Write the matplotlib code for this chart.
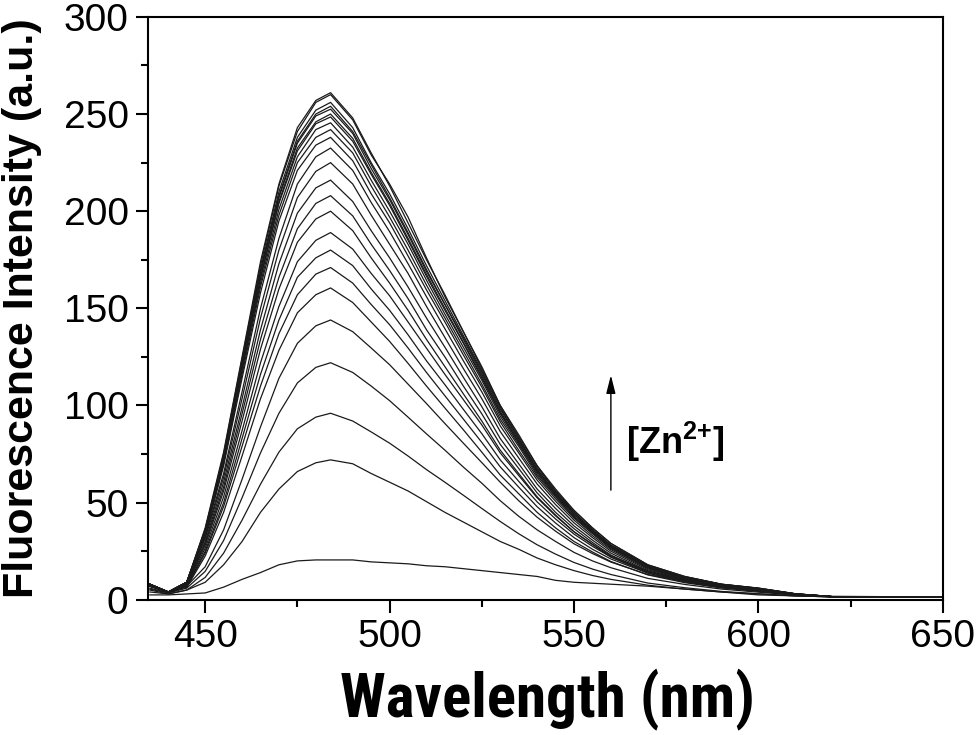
import matplotlib
matplotlib.use("Agg")
import matplotlib.pyplot as plt
from matplotlib.ticker import MultipleLocator
from matplotlib import font_manager as fm

plt.rcParams['font.family'] = ['Liberation Sans', 'DejaVu Sans']
plt.rcParams['mathtext.fontset'] = 'custom'
plt.rcParams['mathtext.rm'] = 'Liberation Sans:bold'
plt.rcParams['mathtext.bf'] = 'Liberation Sans:bold'
plt.rcParams['mathtext.it'] = 'Liberation Sans:bold'

# Wavelength grid (nm)
wavelength = [435, 440, 445, 450, 455, 460, 465, 470, 475, 480, 484, 490, 495, 500,
              505, 510, 515, 520, 525, 530, 535, 540, 545, 550, 555, 560, 570, 580,
              590, 600, 610, 620, 650]

# Fluorescence intensity spectra (a.u.) with increasing [Zn2+]
i_00 = [2.5, 2.5, 3, 3.5, 6.5, 10.5, 14, 18, 20, 20.5, 20.5, 20.5, 19.5, 19, 18.5, 17.5, 17, 16,
        15, 14, 13, 12, 10, 9, 8.5, 8, 7, 5.5, 4, 2.5, 2, 1.5, 1.5]
i_01 = [4, 3, 5, 9, 18, 30, 45, 57, 66, 70.5, 72, 70, 65, 60.5, 56, 50.5, 45, 40,
        35, 30, 26, 21.5, 18, 15, 12.5, 10.5, 7.5, 5.5, 4, 3, 2, 1.5, 1.5]
i_02 = [5, 3, 5, 11.5, 24, 41, 59.5, 76, 88, 94, 96, 92, 86.4, 80.6, 74, 67, 60.5, 53.8,
        47, 40.3, 34, 28.3, 23.5, 19.2, 15.8, 13, 8.6, 6.2, 4.3, 3.1, 2, 1.5, 1.5]
i_03 = [5.5, 3.5, 6, 14.6, 30.5, 52.5, 75.6, 96, 111.6, 119.6, 122, 117, 110, 102.5, 94, 85.4, 77, 68.3,
        60, 51, 43, 36, 30, 24.4, 20, 16.5, 11, 7.9, 5.5, 3.9, 2.4, 1.5, 1.5]
i_04 = [6, 3.5, 7, 17, 36, 62, 89, 114, 132, 141, 144, 138, 129.6, 121, 111, 101, 90.7, 80.6,
        70.6, 60.5, 51, 42.5, 35.3, 28.8, 23.8, 19.4, 13, 9.4, 6.5, 4.6, 2.9, 1.7, 1.5]
i_05 = [7, 4, 6.4, 22.5, 45, 74, 103.5, 128.4, 147.7, 157, 160.5, 153, 143, 133, 121.7, 110, 98.7, 87.5,
        76, 64.2, 54.6, 45, 37, 30, 24.6, 19.7, 12.8, 8.8, 6.1, 4.3, 2.6, 1.6, 1.5]
i_06 = [7, 4, 6.8, 24, 48, 79, 110, 137, 157, 167.6, 171, 163, 152, 141.6, 129.6, 117, 105, 93,
        81, 68.4, 58, 47.9, 39.5, 32, 26, 21, 13.7, 9.4, 6.5, 4.6, 2.7, 1.6, 1.5]
i_07 = [7, 4, 7.2, 25, 50, 83, 116, 144, 166, 176, 180, 172, 160, 149, 136.4, 123, 110.7, 98,
        85.5, 72, 61, 50.4, 41.6, 33.8, 27.5, 22, 14.4, 9.9, 6.8, 4.9, 2.9, 1.6, 1.5]
i_08 = [7, 4, 7.6, 26.5, 53, 87, 122, 151, 174, 185, 189, 180.5, 168, 156.5, 143, 129.5, 116, 103,
        90, 75.6, 64, 52.5, 43.2, 35, 28.6, 22.6, 14.8, 10.2, 7.1, 5.1, 3, 1.7, 1.5]
i_09 = [7, 4, 8, 28, 56, 92, 129, 160, 184, 196, 200, 190, 176, 163, 149, 134, 120, 106,
        92, 77, 65, 53, 43.6, 35, 28.4, 22, 13.8, 9.2, 6.2, 4.6, 2.4, 1.6, 1.5]
i_10 = [7, 4, 8.3, 29, 58, 95.7, 134, 166, 191, 204, 208, 197.6, 183, 169.5, 155, 139, 125, 110,
        95.7, 80, 67.6, 55, 45, 36.6, 29.5, 23, 14.4, 9.6, 6.5, 4.8, 2.5, 1.6, 1.5]
i_11 = [7.5, 4, 8.6, 30, 60.5, 99, 139, 173, 199, 212, 216, 205, 190, 176, 161, 145, 130, 114.5,
        99.4, 83, 70, 57, 47, 38, 30.7, 24, 14.9, 10, 6.7, 5, 2.6, 1.6, 1.5]
i_12 = [7.5, 4, 9, 31.5, 63, 103.5, 145, 180, 207, 220.5, 225, 214, 198, 183, 168, 151, 135, 119,
        103.5, 86.6, 73, 59.6, 49, 39.6, 32, 25, 15.5, 10.4, 7, 5.2, 2.7, 1.6, 1.5]
i_13 = [8, 4, 9, 32.5, 65, 107, 150, 186, 214, 228, 232.5, 221, 204.5, 189.5, 173, 156, 139.5, 123,
        107, 89.5, 75.6, 61.6, 50.7, 41, 33, 25.8, 16, 10.7, 7.2, 5.3, 2.8, 1.6, 1.5]
i_14 = [8, 4, 9, 33, 69, 114, 158, 195, 221, 234, 238, 226, 209, 194, 177, 159.5, 143, 126,
        109.5, 91.6, 77, 63, 52, 42, 34, 26.4, 16.4, 11, 7.4, 5.5, 2.9, 1.6, 1.5]
i_15 = [8, 4, 9, 34, 70, 116, 161, 198, 225, 238, 242, 230, 213, 197, 180, 162, 145, 128,
        111, 93, 79, 64, 53, 42.6, 34.4, 26.9, 16.7, 11.1, 7.5, 5.6, 2.9, 1.6, 1.5]
i_16 = [8, 4, 9, 34, 71, 118, 163, 201, 228, 242, 245.5, 233, 216, 200, 183, 164.5, 147, 130,
        113, 94.5, 80, 65, 53.5, 43, 35, 27, 17, 11.3, 7.6, 5.6, 3, 1.6, 1.5]
i_17 = [8, 4, 9, 35, 72, 119, 165, 204, 231, 245, 248.5, 236, 219, 203, 185, 166.5, 149, 132,
        114, 96, 81, 66, 54, 44, 35, 27.6, 17.1, 11.4, 7.7, 5.7, 3, 1.6, 1.5]
i_18 = [8, 4, 9, 35, 72.5, 120, 166, 205, 232.5, 246, 250, 237.5, 220, 204, 186, 167.5, 150, 132.5,
        115, 96, 81, 66, 54.5, 44, 35.5, 27.8, 17.3, 11.5, 7.8, 5.7, 3, 1.6, 1.5]
i_19 = [8, 4, 9, 35, 73, 121, 168, 207, 235, 249, 252.5, 240, 222, 206, 188, 169, 152, 134,
        116, 97, 82, 67, 55, 44, 36, 28, 17.4, 11.6, 7.8, 5.8, 3, 1.6, 1.5]
i_20 = [8, 4, 9, 36, 74, 122, 169, 208, 236, 250, 254, 241, 224, 207, 189, 170, 152, 135,
        117, 98, 83, 67, 55, 45, 36, 28, 17.5, 11.7, 7.9, 5.8, 3, 1.6, 1.5]
i_21 = [8, 4, 9, 36, 74, 123, 170, 210, 238, 252, 256, 243, 225, 209, 191, 172, 154, 136,
        118, 99, 83, 68, 56, 45, 36, 28, 17.7, 11.8, 8, 5.9, 3.1, 1.6, 1.5]
i_22 = [8, 4, 9, 36, 75, 124, 172, 213, 241, 256, 260, 247, 229, 214, 197, 176, 156, 138,
        119, 100, 84, 69, 56, 46, 37, 29, 18, 12, 8, 6, 3.1, 1.6, 1.5]
i_23 = [8, 4, 9, 37, 76, 125, 174, 214, 243, 257, 261, 248, 230, 213, 194, 175, 157, 138,
        120, 100, 85, 69, 57, 46, 37, 29, 18, 12, 8, 6, 3.1, 1.6, 1.5]

spectra = [i_00, i_01, i_02, i_03, i_04, i_05, i_06, i_07, i_08, i_09, i_10, i_11,
           i_12, i_13, i_14, i_15, i_16, i_17, i_18, i_19, i_20, i_21, i_22, i_23]

# pick a narrow bold font for the x-axis title if one is installed
ttf = fm.fontManager.ttflist
names = {f.name for f in ttf}
narrow_family, narrow_stretch = None, 'normal'
for cand in ['Liberation Sans Narrow', 'Arial Narrow', 'Roboto Condensed',
             'Open Sans Condensed', 'DejaVu Sans Condensed', 'Noto Sans Condensed']:
    if cand in names:
        narrow_family = cand
        break
if narrow_family is None:
    for f in ttf:
        if f.name in ('Roboto', 'Open Sans', 'Noto Sans', 'DejaVu Sans', 'Inter') and \
                str(f.stretch) in ('condensed', 'semi-condensed', 'extra-condensed'):
            narrow_family, narrow_stretch = f.name, str(f.stretch)
            break
if narrow_family is None:
    narrow_family = 'Liberation Sans'

fig = plt.figure(figsize=(9.77, 7.35), dpi=100)
ax = fig.add_axes([0.1515, 0.184, 0.8135, 0.793])

for s in spectra:
    ax.plot(wavelength, s, color='#1a1a1a', lw=0.9)

ax.set_xlim(434.5, 650)
ax.set_ylim(0, 300)
ax.xaxis.set_major_locator(MultipleLocator(50))
ax.xaxis.set_minor_locator(MultipleLocator(25))
ax.yaxis.set_major_locator(MultipleLocator(50))
ax.yaxis.set_minor_locator(MultipleLocator(25))
ax.tick_params(which='major', direction='out', length=9, width=1.5, labelsize=28, pad=5)
ax.tick_params(which='minor', direction='out', length=5, width=1.5)
ax.tick_params(top=False, right=False)
for sp in ax.spines.values():
    sp.set_linewidth(1.5)

xl = ax.set_xlabel('Wavelength (nm)', fontsize=45, fontweight='bold',
                   family=[narrow_family, 'Liberation Sans'], fontstretch=narrow_stretch,
                   va='baseline')
ax.xaxis.set_label_coords(0.502, -0.2024)
ax.set_ylabel('Fluorescence Intensity (a.u.)', fontsize=31, fontweight='bold')
ax.yaxis.set_label_coords(-0.134, 0.5)

# fit the x title to the width it has in the reference (about 415 px)
fig.canvas.draw()
w = xl.get_window_extent().width
xl.set_fontsize(45 * 415.0 / w)

ax.annotate('', xy=(560, 117), xytext=(560, 55),
            arrowprops=dict(arrowstyle='-|>,head_length=1.1,head_width=0.28',
                            mutation_scale=10, lw=1.0, color='black'))
ax.text(564, 81, r'[Zn$^{2{+}}$]', fontsize=26, fontweight='bold',
        ha='left', va='center')

fig.savefig('out.png', dpi=100)
